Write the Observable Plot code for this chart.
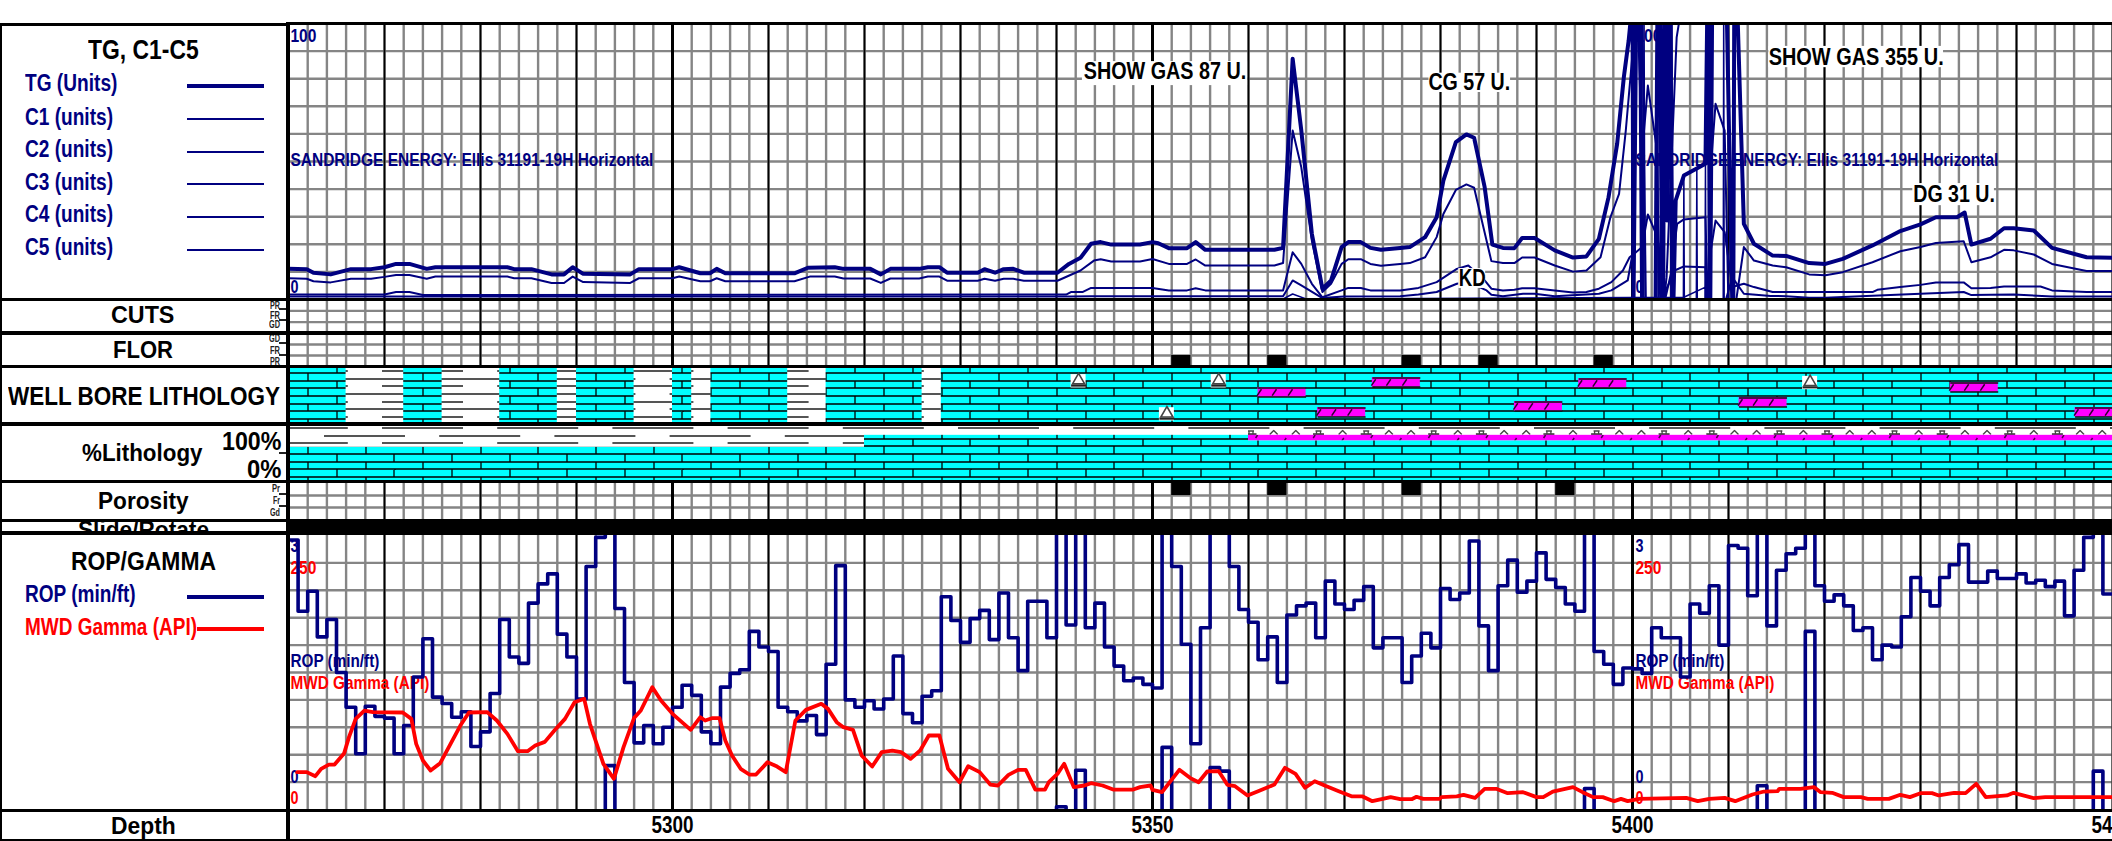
<!DOCTYPE html>
<html>
<head>
<meta charset="utf-8">
<script src="https://cdn.jsdelivr.net/npm/d3@7"></script>
<script src="https://cdn.jsdelivr.net/npm/@observablehq/plot@0.6"></script>
<style>
html,body{margin:0;padding:0;background:#fff;}
#log{position:relative;width:2112px;height:841px;overflow:hidden;font-family:"Liberation Sans",Arial,sans-serif;font-weight:bold;}
#log .track{position:absolute;left:288px;}
#log .bar{position:absolute;background:#000;}
#log .lab{position:absolute;white-space:nowrap;line-height:1;}
#log svg{display:block;}
</style>
</head>
<body>
<div id="log"></div>
<script>
// ---- depth scale ----
const depthDomain = [5260, 5450];
const depthLabels = [5300, 5350, 5400, 5450];
const minorDepths = d3.range(5260, 5451, 2);
const tenDepths = d3.range(5270, 5451, 10);
const fiftyDepths = [5300, 5350, 5400];

// ---- gas trace, [depth ft, units], as drawn; the trace runs off either end of the 0-100 track ----
const tgTrace = [[5260,11.1],[5261.9,11],[5262.6,9.7],[5264.4,9.1],[5266.5,11],[5268.6,11],[5270,11.7],[5271.2,12.9],[5272.6,12.9],[5274.4,11.1],[5275.3,11.7],[5282.8,11.7],[5283.5,11],[5285.3,11],[5287.4,9.1],[5288.7,9.1],[5289.6,11.7],[5290.7,9.3],[5295.6,9.1],[5296.5,11],[5300,11],[5300.7,11.7],[5302.9,9.5],
[5303.9,9.5],[5304.6,11.1],[5305.5,9.5],[5312.7,9.5],[5314.1,11.5],[5316.9,11.7],[5317.8,11.1],[5320.6,11.1],[5321.7,9.1],[5322.7,11.1],[5325.7,11.1],[5326.6,11.7],[5327.8,11.7],[5328.6,9.7],[5331.8,9.7],[5332.5,11],[5333.6,9.7],[5334.5,11],[5335.5,11.1],[5336.6,9.7],[5340.1,9.7],[5341.3,12.9],[5342.5,15.1],[5343.6,20.2],[5344.6,20.8],[5345.7,19.9],[5348.7,19.9],[5350,20.8],[5350.6,20.4],[5351.7,18.6],[5353.6,18.6],[5354.5,20.8],[5355.5,18],[5362.7,18],[5363.6,18.7],[5364.6,87.2],[5365.5,61.2],[5366.6,23.8],[5367.7,3.9],[5368.6,6.9],[5369.7,19],[5370.4,20.8],[5371.7,20.8],[5372.7,18.7],[5373.8,18],[5375.8,18.7],
[5376.8,19],[5378.4,22.6],[5379.6,29.8],[5380.3,43.1],[5381.6,57],[5382.7,59.8],[5383.5,58.6],[5384.6,40.7],[5385.4,19.9],[5386.5,18.7],[5387.7,18.6],[5388.5,22.3],[5389.8,22.3],[5391.9,17.8],[5393.8,15.2],[5395.2,15.6],[5396.5,22],
[5397.5,37],[5398.4,56.4],[5399.1,80.6],[5399.6,93.8],[5400,108],[5400.1,-3],[5400.4,108],[5400.8,108],[5401,-3],[5402.4,-3],[5402.6,108],[5402.85,108],[5403.1,-3],[5403.2,-3],[5403.3,108],[5403.4,108],[5403.6,28.6],[5403.85,108],[5403.95,108],[5404.15,-3],[5404.25,-3],[5404.5,35.9],[5405.35,44.9],[5407.6,49.2],[5407.8,108],[5407.95,108],[5408.05,-3],[5408.1,-3],[5408.3,108],[5409.8,108],[5410.4,-3],[5410.5,-3],[5410.6,108],[5410.9,108],[5411.6,27.4],[5412.65,20.2],
[5414.6,15.9],[5416,15.8],[5418.4,13.2],[5420.1,12.9],[5421.9,14.7],[5425,19.6],[5427.9,24.8],[5430,27.2],[5431.6,29.8],[5433.8,29.8],[5434.6,31.5],[5435.3,19.9],[5437.3,22],[5438.7,25.8],[5439.7,25.8],[5441.8,25],[5443.7,18.7],[5447.3,15.3],[5450,15.1]];

const c1Trace = [[5260,7.7],[5261.9,7.5],[5262.6,6.6],[5264.4,6.2],[5266.5,7.5],[5268.6,7.5],[5270,8.2],[5271.2,8.9],[5272.6,8.9],[5274.4,7.5],[5275.3,8.3],[5282.8,8.3],[5283.5,7.7],[5285.3,7.7],[5287.4,6],[5288.7,6],[5289.6,8.3],[5290.7,6.3],[5295.6,6],[5296.5,7.7],[5300,7.7],[5300.7,8.3],[5302.9,6.6],
[5303.9,6.6],[5304.6,7.7],[5305.5,6.6],[5312.7,6.6],[5314.3,8.3],[5316.9,8.3],[5317.8,7.6],[5320.6,7.6],[5321.7,6],[5322.7,7.6],[5325.7,7.6],[5326.6,8.3],[5327.8,8.3],[5328.6,6.8],[5331.8,6.8],[5332.5,7.5],[5333.6,6.8],[5334.5,7.5],[5335.5,7.5],[5336.6,6.8],[5340.1,6.8],[5342.5,10.5],[5343.9,14.1],[5344.6,14.6],[5345.7,13.8],[5348.7,13.8],[5350,14.7],[5351.7,12.9],[5353.6,12.9],[5354.5,14.5],[5355.5,12.3],[5362.7,12.3],[5363.6,13.2],[5364.6,61.2],[5365.5,47.9],[5366.6,21.4],[5367.7,2.7],[5368.6,5.7],[5369.7,12.9],[5370.4,14.6],[5371.7,14.6],[5372.7,12.9],[5373.8,12.2],[5375.8,12.9],
[5376.8,13.2],[5378.4,15.3],[5379.6,22.6],[5380.3,31],[5381.6,39.7],[5382.7,41.7],[5383.5,40.5],[5385.3,13.9],[5386.5,13.2],[5387.7,13.2],[5388.5,15.2],[5389.8,15.2],[5391.9,12.3],[5393.8,10.1],[5395.2,10.5],[5396.67,15.3],
[5397.7,29.8],[5398.6,38.3],[5399.3,61.2],[5400,89],[5400.25,108],[5400.5,108],[5401,52.8],[5401.6,77.5],[5402.5,55.2],[5402.9,-2.8],[5403.2,-2.8],[5403.55,8.1],[5404.6,95],[5405.2,108],[5407.8,108],[5408,40.7],[5408.65,70.9],[5409.6,61.2],[5410,-2.8],[5410.7,-2.8],[5411.6,19],[5412.65,14.1],
[5414.6,12.3],[5416,11.7],[5418.4,9.1],[5420.1,8.8],[5421.9,9.9],[5425,13.5],[5427.9,17.5],[5430,19],[5431.6,20.5],[5434.5,21.1],[5435.3,13.5],[5437.3,15.3],[5438.7,18],[5439.7,17.8],[5441.8,16.3],[5443.7,12.9],[5447.3,10.3],[5450,10.3]];

const c2Trace = [[5260,1.8],[5270,1.8],[5271.2,2.7],[5272.6,2.7],[5274,1.6],[5341,1.8],[5341.5,2.7],[5342.7,2.7],[5343.6,4.2],[5350,4.2],[5351.7,3.3],[5353.6,3.3],[5354.5,4.1],[5355.5,3.3],[5363.6,3.3],[5364.6,17.1],[5365.5,12.9],[5366.6,5.7],[5367.7,0.8],[5369.7,3.3],[5370.4,4.2],[5371.7,4.2],[5372.7,3.3],[5375.8,3.3],
[5377.7,4.2],[5379.6,6.3],[5381.7,11.1],[5382.9,12.3],[5384.6,6.9],[5385.3,3.9],[5386.5,3.3],[5387.7,3.5],[5388.5,4.1],[5389.8,4.1],[5391.9,3.3],[5393.8,2.5],[5395.2,2.7],[5396.5,3.9],[5397.8,6.3],[5399,10.5],[5399.7,15.3],[5400.15,16.5],[5401,19],[5401.6,30.8],[5402.6,22.6],[5403.45,0.8],[5404,9.3],[5404.65,27.4],[5405.35,29],[5407.6,29.8],[5407.85,-1.6],[5408.1,16.5],[5408.65,28.6],[5409.6,24.4],[5410.4,4.5],[5411.6,5.7],[5412.65,4.5],[5414.6,2.7],[5425,2.7],[5425.5,3.5],[5427.9,4.5],[5430,5.3],[5431.6,6.2],[5434.5,6.2],[5435.3,4.1],[5437.3,4.2],[5438.7,4.7],[5442.5,4.7],[5443.7,3.3],[5447.3,2.7],[5450,2.7]];

const c3Trace = [[5260,1.1],[5341.5,1.1],[5343.6,1.2],[5363.6,1.2],[5364.6,6.9],[5365.5,5.1],[5367.7,0.5],[5369.9,1.1],[5375.8,1.2],[5377.7,1.8],[5379.6,2.7],[5381.7,5.7],[5382.9,6.3],[5384.8,3.3],[5385.3,1.7],[5386.5,1.2],[5388.6,2.1],[5389.8,2.1],[5391.9,1.2],[5396.5,2.1],[5397.8,3.3],[5399.5,6.9],[5400,16.5],[5400.3,108],[5401,108],[5401.4,-2.8],[5402.2,-2.8],[5403.4,3],[5404.5,10.7],[5405.35,12],[5407.6,11.7],[5407.8,-2.8],[5409.5,-2.8],[5410.4,8],[5411.6,2.1],[5414.4,1.3],[5416,1.2],[5418.4,0.6],[5420.1,0.6],[5425,1.4],[5430,2.1],[5434.5,2.7],[5435.3,1.6],[5437.3,1.7],[5439.7,1.8],[5443.7,1.1],[5450,1.1]];

const c4Trace = [[5260,0.2],[5363.6,0.2],[5364.6,2],[5366,0.2],[5405.35,0.8],[5407.6,4.5],[5407.8,0.2],[5450,0.2]];

const c5Trace = [[5260,0],[5401.1,0],[5401.2,108],[5401.3,0],[5402.5,0],[5402.6,108],[5402.7,0],[5404,0],[5404.1,108],[5404.2,0],[5405.3,0],[5405.35,44.9],[5405.4,0],[5406.65,0],[5406.7,47.5],[5406.75,0],[5407.55,0],[5407.6,49.2],[5407.65,0],[5409.45,0],[5409.5,108],[5409.55,0],[5450,0]];

const gasNotes = [
  {text:"SHOW GAS 87 U.", depth:5351.3, units:82.6, d1:5342.7, d2:5359.9, u1:77.5, u2:86.2},
  {text:"CG 57 U.", depth:5383, units:78.5, d1:5378.8, d2:5387.3, u1:75, u2:82},
  {text:"SHOW GAS 355 U.", depth:5423.3, units:87.7, d1:5414.2, d2:5432.4, u1:84, u2:91.7},
  {text:"DG 31 U.", depth:5433.5, units:38, d1:5429.2, d2:5437.7, u1:34, u2:42},
  {text:"KD", depth:5383.3, units:7.5, d1:5381.9, d2:5384.7, u1:4, u2:11.2}
];
const gasScaleLabels = [
  {text:"100", units:95.3}, {text:"SANDRIDGE ENERGY: Ellis 31191-19H Horizontal", units:50.4}, {text:"0", units:4.3}
];
const scaleRepeats = [5260.2, 5400.3];

// ---- quality tracks: black cells, [from ft, to ft] ----
const florCells = [[5352,5354],[5362,5364],[5376,5378],[5384,5386],[5396,5398]];
const porosityCells = [[5352,5354],[5362,5364],[5376,5378],[5392,5394]];

// ---- well bore lithology ----
const limestoneIntervals = [[5260,5266],[5272,5276],[5282,5288],[5290,5296],[5300,5302],[5304,5312],[5316,5326],[5328,5450]];
const dolomiteStarts = [5361,5367.2,5372.9,5387.7,5394.4,5411.1,5433.1,5446.1];
const dolomiteTops = [36.2,70.7,19,60.3,20.7,53.4,27.6,70.7];
const chertDepths = [5342.3,5356.9,5351.5,5418.5];
const chertTops = [14,14,71,17];

// ---- percent lithology, [from ft, to ft, from %, to %] ----
const pctLimestone = [[5260,5320,0,60],[5320,5360,0,81],[5360,5450,0,71]];
const pctDolomite = [[5360,5450,71,81]];
const pctChert = [[5360,5450,81,90]];
const pctShale = [[5260,5450,0,100]];

// ---- ROP, one value per foot from 5260 (min/ft). Above 3 the trace wraps to the bottom of the track ----
const rop = [
2.95,2.17,2.39,1.89,2.08,1.50,1.12,.61,1.13,1.02,
1.00,.61,.92,1.45,1.87,1.23,1.16,1.01,1.07,.69,
.85,1.27,2.08,1.67,1.60,2.26,2.47,2.58,1.92,1.67,
1.21,2.66,2.98,3.48,2.20,1.39,.73,.92,.72,.90,
1.12,1.36,1.25,.85,.72,1.34,1.49,1.53,1.95,1.78,
1.73,1.12,1.07,.97,1.03,.82,1.59,2.67,1.20,1.12,
1.19,1.10,1.21,1.68,1.05,.95,1.24,1.30,2.33,2.07,
1.83,2.09,2.18,1.86,2.37,1.88,1.52,2.28,2.28,1.88,
3.03,2.02,3.43,1.99,2.26,1.78,1.57,1.41,1.44,1.37,
1.33,3.68,2.66,1.81,.72,1.99,3.46,3.42,2.66,2.19,
2.05,1.64,1.89,1.39,2.13,2.23,2.26,1.88,2.50,2.25,
2.19,2.29,2.44,1.77,1.88,1.88,1.39,1.68,1.93,1.77,
2.42,2.30,2.37,2.94,2.01,1.52,2.45,2.73,2.38,2.50,
2.81,2.52,2.43,2.25,2.17,3.23,1.73,1.59,1.37,1.55,
1.54,1.49,1.99,1.88,1.88,1.45,2.25,2.15,2.45,1.80,
2.89,2.86,2.34,3.26,2.01,2.62,2.80,2.86,4.95,2.45,
2.28,2.35,2.23,1.96,1.99,1.64,1.80,1.78,2.11,2.54,
2.39,2.23,2.54,2.68,2.90,2.49,2.49,2.61,2.53,2.53,
2.58,2.48,2.51,2.44,2.50,2.12,2.62,2.98,3.42,2.36];
const ropMax = 3;
const gammaMax = 250;

// ---- MWD gamma, [depth ft, API] ----
const gamma = [[5260.9,34.1],[5261.9,34.1],[5262.8,30.4],[5263.4,37.1],[5264.2,41],[5264.8,41],[5265.8,51.4],[5266.3,66],[5267,82.7],[5267.9,90.3],[5268.8,88.8],[5271.9,88.5],[5272.8,82.7],[5273.3,59.9],[5274,44.7],[5274.8,35.6],[5275.8,42.3],[5276.7,56.9],[5277.9,76.6],[5278.8,88.5],[5280.7,88.8],[5281.7,81.2],[5282.8,69],[5283.9,53.2],[5284.9,53.2],[5285.7,58.4],[5286.7,61.7],[5287.7,72.1],[5288.8,82.7],[5289.8,97.9],[5290.8,101],[5291.4,78.2],[5292.1,59.9],[5292.8,41.7],[5293.9,28],[5294.9,56.9],[5296,83.6],[5296.7,90.3],[5297.9,111.6],[5298.8,99.4],[5300,87.3],[5301.9,72.7],[5302.9,84.2],
[5303.4,81.2],[5304.1,83.3],[5304.9,83.3],[5305.5,63],[5306.2,49.3],[5307.1,37.1],[5308,31.9],[5308.7,31.9],[5309.9,43.2],[5310.9,39.2],[5311.8,34.1],[5312.8,81.2],[5313.9,90.9],[5315.5,96.4],[5316.2,91.8],[5317.1,79.7],[5317.8,75.1],[5318.8,72.7],[5319.7,49.3],[5320.8,39.2],[5321.8,52.3],[5322.9,53.8],[5323.8,52.3],[5324.8,46.2],[5325.8,53.8],[5326.7,67.5],[5327.8,67.5],[5328.7,37.1],[5329.9,24.9],[5330.8,39.5],[5332,34.1],[5333.1,22.8],[5333.9,21.9],[5335,31.6],[5336,36.2],[5336.8,36.2],[5337.8,18.2],[5338.8,18.2],[5339.2,24.9],[5340.1,32.5],[5340.8,41.7],[5341.8,20.4],[5342.9,21.9],[5343.6,24],[5344.8,21.9],[5345.9,18.2],[5348,18.2],[5348.7,20.4],[5349.8,21.9],[5350,17.9],[5351,15.8],[5351.8,24.9],[5352.8,36.2],[5353.9,28.9],[5354.8,24.9],[5355.7,34.7],[5356.9,35],[5357.8,22.5],[5358.6,21.3],[5359.9,12.8],[5361,16.7],[5362.7,22.8],[5363.8,38],[5364.9,32.5],[5365.9,19.8],[5366.9,25.8],[5368,21.6],[5369.4,16.7],[5370.8,11.9],[5371.9,11.9],[5372.9,7.6],[5374.1,10],[5374.8,11.3],[5375.8,9.4],
[5377,9.4],[5377.5,11.6],[5378.2,9.7],[5379.9,9.7],[5380.1,11.3],[5381.7,11.9],[5382.4,13.4],[5383.6,10.6],[5384.6,18.9],[5385.8,18.9],[5387,14.9],[5388.6,15.8],[5390,11.3],[5390.7,11.3],[5391.7,16.4],[5393.8,20.4],[5394.8,15.8],[5395.9,11.3],[5396.9,11.3],[5398.1,7.6],[5398.8,9.7],[5399.5,7.6],[5400.7,9.7],[5405.6,10.6],[5406.8,7.6],[5408,9.7],[5409.6,10.6],[5410.7,7.6],[5412.5,13.7],[5413.7,16.4],[5415.1,16.7],[5415.3,18.9],[5417.5,18.9],[5418.9,20.4],[5419.6,15.8],[5420.8,15.2],[5422,11.3],[5423.8,11.3],[5424.5,9.7],[5426.7,9.7],[5427.9,13.4],[5428.9,11.3],[5430,14.9],[5431.2,14.9],[5431.9,12.8],[5433.5,15.2],[5434.7,14.9],[5435.8,23.4],[5436.8,11.3],[5439,12.8],[5439.7,15.2],[5441.8,10.3],[5443,11.3],[5450,11.3]];

const ropScaleLabels = [
  {text:"3", value:2.88, color:"#000080"}, {text:"250", value:2.64, color:"#ff0000"},
  {text:"ROP (min/ft)", value:1.62, color:"#000080"}, {text:"MWD Gamma (API)", value:1.38, color:"#ff0000"},
  {text:"0", value:0.35, color:"#000080"}, {text:"0", value:0.12, color:"#ff0000"}
];

// ---- left-hand header texts ----
const headers = [
  ["TG, C1-C5",143,50,27,"#000",110.7,"c"],["CUTS",143,315,24,"#000",63.4,"c"],["FLOR",143,350,24,"#000",60,"c"],
  ["WELL BORE LITHOLOGY",144,396,26,"#000",272,"c"],["%Lithology",142,453,24,"#000",120.5,"c"],
  ["100%",281,441,25,"#000",59.4,"r"],["0%",281,469,25,"#000",34.4,"r"],["Porosity",143,501,24,"#000",90.6,"c"],
  ["ROP/GAMMA",143,561,25,"#000",145,"c"],["Depth",143,826,24,"#000",64.7,"c"],
  ["TG (Units)",25,83,23,"#000080",92.4,"l"],["C1 (units)",25,117,23,"#000080",88,"l"],["C2 (units)",25,149,23,"#000080",88,"l"],
  ["C3 (units)",25,182,23,"#000080",88,"l"],["C4 (units)",25,214,23,"#000080",88,"l"],["C5 (units)",25,247,23,"#000080",88,"l"],
  ["ROP (min/ft)",25,594,23,"#000080",110.7,"l"],["MWD Gamma (API)",25,627,23,"#ff0000",172,"l"],
  ["PR",280,306,11.5,"#222",10,"r"],["FR",280,316,11.5,"#222",10,"r"],["GD",280,325,11.5,"#222",11,"r"],
  ["GD",280,339,11.5,"#222",11,"r"],["FR",280,351,11.5,"#222",10,"r"],["PR",280,362,11.5,"#222",10,"r"],
  ["Pr",280,489,11.5,"#222",8,"r"],["Fr",280,501,11.5,"#222",7,"r"],["Gd",280,513,11.5,"#222",10,"r"]
];
const legendKeys = [[187,264,86,4,"#000080"],[187,264,119,2,"#000080"],[187,264,151.5,2,"#000080"],[187,264,184,2,"#000080"],[187,264,217,2,"#000080"],[187,264,249.5,2,"#000080"],[187,264,597,4,"#000080"],[197,264,629,4,"#ff0000"]];
const tickDashes = [[279,288,309],[279,288,320],[279,288,343],[279,288,355],[279,288,453],[279,288,494],[279,288,506]];
// black separators: [x0, x1, y0, y1]
const separators = [[288,2112,21.5,24.7],[0,288,23,25.5],[0,288,298,301.3],[288,2112,298,301.3],[0,2112,330.7,334.7],[0,2112,365,368.3],[0,2112,422.3,425.7],[0,2112,480,483.3],[0,288,518.7,522.3],[0,288,531,535],[0,2112,808.7,811.7],[0,2112,839.3,841],[286,290,22,841],[0,2,23,841],[288,2112,532,535]];

const GRAY = "#858585", NAVY = "#000080", RED = "#ff0000", FONT = "Liberation Sans";

// all pattern tiles have whole-pixel sizes (5 bricks x 6 courses) so they rasterise crisply
function patterns(shaleDy) {
  const cols = d3.range(5), rows = d3.range(6);
  const courseY = [7, 15, 22, 30, 38, 45, 53];
  let brick = "", dash = "";
  rows.forEach(r => {
    const y0 = r === 0 ? 0 : courseY[r - 1], y1 = courseY[r];
    cols.forEach(c => {
      const x = Math.round(57.6 * c + (r % 2 === 0 ? 48.8 : 20));
      brick += `M${x} ${y0}V${y1}`;
    });
  });
  courseY.slice(0, 6).forEach(y => { brick += `M0 ${y}H288`; });
  brick += "M49 45V46M107 45V46M164 45V46M222 45V46M279 45V46";
  [5, 13, 20, 28, 36, 43].forEach((y, r) => {
    cols.forEach(c => {
      const s = 115.2 * c + (r % 2 === 0 ? 94 : 36);
      dash += `M${s} ${y}h81`;
      if (s + 81 > 576) dash += `M${s - 576} ${y}h81`;
    });
  });
  const tri = [86.2, 17.8, 64.1], trap = [108.9, 41.4];
  const chertMarks = cols.map(c => 115.2 * c).map(o => [
    ...tri.map(x => `<path d="M${o+x-4} 10.5L${o+x} 6.5L${o+x+4} 10.5" stroke="#444" stroke-width="1.4" fill="none"/>`),
    ...trap.map(x => `<path d="M${o+x-5.5} 10.3H${o+x+5.5}" stroke="#222" stroke-width="2"/><path d="M${o+x-3} 7H${o+x+3}M${o+x-2} 7V10M${o+x+2} 7V10" stroke="#444" stroke-width="1.3"/>`)
  ].join("")).join("");
  return () => d3.create("svg:defs").html(`
  <pattern id="lime${shaleDy}" patternUnits="userSpaceOnUse" width="288" height="46">
    <rect width="288" height="46" fill="#00ffff"/>
    <path d="${brick}" stroke="#000" stroke-width="1.3" fill="none"/>
  </pattern>
  <pattern id="shale${shaleDy}" patternUnits="userSpaceOnUse" width="576" height="46" patternTransform="translate(0,${shaleDy})">
    <rect width="576" height="46" fill="#fff"/>
    <path d="${dash}" stroke="#555" stroke-width="2" fill="none"/>
  </pattern>
  <pattern id="chert${shaleDy}" patternUnits="userSpaceOnUse" width="576" height="57">
    <rect width="576" height="57" fill="#fff"/>
    ${chertMarks}
  </pattern>
  <pattern id="doloBand${shaleDy}" patternUnits="userSpaceOnUse" width="288" height="57">
    <rect width="288" height="57" fill="#ff00ff"/>
    ${cols.map(c => `<path d="M${57.6*c+46} 14L${57.6*c+48} 11M${57.6*c+17} 17L${57.6*c+19} 14" stroke="#500050" stroke-width="1.5"/>`).join("")}
  </pattern>`).node();
}

function grid(hLines) {
  return [
    Plot.ruleY(hLines, {stroke: GRAY, strokeWidth: 2.4}),
    Plot.ruleX(minorDepths, {stroke: GRAY, strokeWidth: 2.4}),
    Plot.ruleX(tenDepths, {stroke: "#000", strokeWidth: 1.8}),
    Plot.ruleX(fiftyDepths, {stroke: "#000", strokeWidth: 3})
  ];
}

const log = document.getElementById("log");
function track(top, height, yDomain, yRange, marks) {
  const el = Plot.plot({
    width: 1824, height, margin: 0,
    x: {domain: depthDomain, range: [0, 1824], axis: null},
    y: {domain: yDomain, range: yRange, axis: null},
    style: {background: "transparent", overflow: "hidden"},
    marks
  });
  el.setAttribute("class", (el.getAttribute("class") || "") + " track");
  el.style.top = top + "px";
  el.style.left = "288px";
  el.style.position = "absolute";
  log.appendChild(el);
  return el;
}
const cellRect = (cells, row) => Plot.rect(cells, {x1: d => d[0], x2: d => d[1], y1: row, y2: row + 1, fill: "#000"});
const labelFont = {fontFamily: FONT, fontWeight: "bold", textAnchor: "start", lineAnchor: "middle"};

// gas
const gasLine = (data, w) => Plot.line(data, {x: d => d[0], y: d => d[1], stroke: NAVY, strokeWidth: w, clip: true});
track(23, 276, [0, 100], [276, 0], [
  ...grid(d3.range(10, 100, 10)),
  ...scaleRepeats.map(depth => Plot.text(gasScaleLabels, {...labelFont, x: () => depth, y: "units", text: "text", fill: NAVY, fontSize: 18})),
  gasLine(c5Trace, 1.5), gasLine(c4Trace, 1.5), gasLine(c3Trace, 2), gasLine(c2Trace, 2), gasLine(c1Trace, 2), gasLine(tgTrace, 4),
  Plot.rect(gasNotes, {x1: "d1", x2: "d2", y1: "u1", y2: "u2", fill: "#fff"}),
  Plot.text(gasNotes, {x: "depth", y: "units", text: "text", fontFamily: FONT, fontWeight: "bold", fontSize: 23, fill: "#000", lineAnchor: "middle"})
]);

// cuts, flor
track(299, 34, [0, 3], [34, 0], [...grid([1, 2])]);
track(333, 33, [0, 3], [33, 0], [...grid([1, 2]), cellRect(florCells, 0)]);

// well bore lithology
const dolomite = dolomiteStarts.map((d, i) => ({d, top: dolomiteTops[i]}));
const chert = chertDepths.map((d, i) => ({d, top: chertTops[i]}));
const slants = dolomite.flatMap(b => [1/3, 2/3, 0.02].map(f => ({x1: b.d + 5*f - 0.2, x2: b.d + 5*f + 0.25, y1: b.top + 14, y2: b.top + 3})));
const edges = dolomite.flatMap(b => [b.top + 0.8, b.top + 16.4].map(y => ({x1: b.d, x2: b.d + 5, y})));
track(366, 58, [0, 100], [0, 58], [
  patterns(0),
  Plot.rect([[5260, 5450]], {x1: d => d[0], x2: d => d[1], y1: 0, y2: 100, fill: "url(#shale0)"}),
  Plot.rect(limestoneIntervals, {x1: d => d[0], x2: d => d[1], y1: 0, y2: 100, fill: "url(#lime0)"}),
  Plot.rect(dolomite, {x1: "d", x2: d => d.d + 5, y1: "top", y2: d => d.top + 17, fill: "#ff00ff"}),
  Plot.link(slants, {x1: "x1", x2: "x2", y1: "y1", y2: "y2", stroke: "#300030", strokeWidth: 1.5, markerEnd: "none"}),
  Plot.link(edges, {x1: "x1", x2: "x2", y1: "y", y2: "y", stroke: "#111", strokeWidth: 1.6}),
  Plot.rect(chert, {x1: d => d.d - 0.78, x2: d => d.d + 0.78, y1: "top", y2: d => d.top + 23, fill: "#fff"}),
  Plot.dot(chert, {x: "d", y: d => d.top + 10, symbol: "triangle", r: 4.5, stroke: "#444", strokeWidth: 1.6, fill: "#fff"}),
  Plot.link(chert, {x1: d => d.d - 0.78, x2: d => d.d + 0.78, y1: d => d.top + 19, y2: d => d.top + 19, stroke: "#222", strokeWidth: 2})
]);

// percent lithology
const pctRect = (rows, fill) => Plot.rect(rows, {x1: d => d[0], x2: d => d[1], y1: d => d[2], y2: d => d[3], fill});
track(424, 57, [0, 100], [57, 0], [
  patterns(-1),
  pctRect(pctShale, "url(#shale-1)"),
  pctRect(pctChert, "url(#chert-1)"),
  pctRect(pctDolomite, "url(#doloBand-1)"),
  pctRect(pctLimestone, "url(#lime-1)")
]);

// porosity
track(483, 36, [0, 3], [36, 0], [...grid([1, 2]), cellRect(porosityCells, 2)]);

// slide / rotate: solid black over the whole interval
track(519, 16, [0, 1], [16, 0], [Plot.rect([depthDomain], {x1: d => d[0], x2: d => d[1], y1: 0, y2: 1, fill: "#000"})]);

// ROP / gamma
const ropRows = rop.map((v, i) => ({depth: depthDomain[0] + i, v}));
ropRows.push({depth: depthDomain[1], v: rop[rop.length - 1]});
track(535, 274, [0, ropMax], [274, 0], [
  ...grid(d3.range(1, 10).map(k => k * ropMax / 10)),
  ...scaleRepeats.map(depth => Plot.text(ropScaleLabels, {...labelFont, x: () => depth, y: "value", text: "text", fill: d => d.color, fontSize: 18})),
  Plot.line(ropRows, {x: "depth", y: "v", curve: "step-after", stroke: NAVY, strokeWidth: 3.6, clip: true}),
  Plot.line(ropRows, {x: "depth", y: d => d.v - ropMax, curve: "step-after", stroke: NAVY, strokeWidth: 3.6, clip: true}),
  Plot.line(gamma, {x: d => d[0], y: d => d[1] / gammaMax * ropMax, stroke: RED, strokeWidth: 3.8, clip: true})
]);

// depth axis
track(809, 32, [0, 1], [32, 0], [
  Plot.text(depthLabels, {x: d => d, y: 0.5, text: d => String(d), fontFamily: FONT, fontWeight: "bold", fontSize: 24, fill: "#000", lineAnchor: "middle"})
]);

// condense chart labels to the widths seen in the log
const svgWidths = {"100": 26, "0": 8, "3": 8, "250": 26, "ROP (min/ft)": 89, "MWD Gamma (API)": 139,
  "SANDRIDGE ENERGY: Ellis 31191-19H Horizontal": 363, "SHOW GAS 87 U.": 162.5, "CG 57 U.": 81.7,
  "SHOW GAS 355 U.": 175, "DG 31 U.": 81.7, "KD": 27, "5300": 42, "5350": 42, "5400": 42, "5450": 42};
log.querySelectorAll("svg text").forEach(t => {
  const w = svgWidths[t.textContent];
  if (w) { t.setAttribute("textLength", w); t.setAttribute("lengthAdjust", "spacingAndGlyphs"); }
});

// left panel background, above the tracks' hidden edge
const panel = document.createElement("div");
panel.style.cssText = "position:absolute;left:0;top:23px;width:288px;height:818px;background:#fff";
log.appendChild(panel);

function bar(x0, x1, y0, y1, color) {
  const b = document.createElement("div");
  b.className = "bar";
  b.style.cssText = `left:${x0}px;width:${x1 - x0}px;top:${y0}px;height:${y1 - y0}px;background:${color || "#000"}`;
  log.appendChild(b);
}
function label(text, x, y, size, color, width, anchor, parent) {
  const s = document.createElement("span");
  s.className = "lab";
  s.textContent = text;
  s.style.fontSize = size + "px";
  s.style.color = color;
  (parent || log).appendChild(s);
  const k = width / s.getBoundingClientRect().width;
  const w = width;
  const h = s.getBoundingClientRect().height;
  const left = anchor === "c" ? x - w / 2 : anchor === "r" ? x - w : x;
  s.style.left = left + "px";
  s.style.top = (y - h / 2) + "px";
  s.style.transformOrigin = "0 50%";
  s.style.transform = `scaleX(${k})`;
}
headers.forEach(h => label(...h));

// the Slide/Rotate header is cut by its narrow row
const slideCell = document.createElement("div");
slideCell.style.cssText = "position:absolute;left:0;top:522px;width:286px;height:9px;overflow:hidden";
log.appendChild(slideCell);
label("Slide/Rotate", 143, 8, 24, "#000", 131, "c", slideCell);

legendKeys.forEach(([x0, x1, y, w, c]) => bar(x0, x1, y - w / 2, y + w / 2, c));
tickDashes.forEach(([x0, x1, y]) => bar(x0, x1, y - 0.75, y + 0.75, "#222"));
separators.forEach(([x0, x1, y0, y1]) => bar(x0, x1, y0, y1));
</script>
</body>
</html>
